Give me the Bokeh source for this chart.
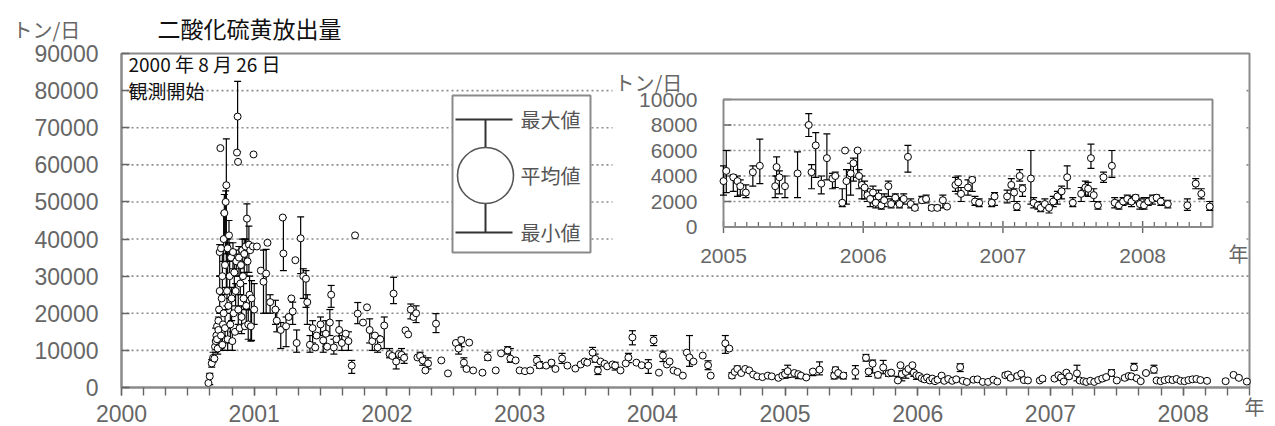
import numpy as np
from bokeh.plotting import figure
from bokeh.models import Range1d, SingleIntervalTicker, Label, ColumnDataSource, LinearAxis
from bokeh.embed import file_html
from bokeh.resources import INLINE
from bokeh.core.properties import value

# ---- observations: (decimal year, daily mean, daily min, daily max)  [t/day]
obs_2000 = [
    (2000.655, 1200, None, None), (2000.665, 3000, 800, 3800), (2000.68, 6500, 5500, 7500),
    (2000.69, 8000, 6800, 9500), (2000.70, 7800, None, None), (2000.705, 11000, None, None),
    (2000.71, 12500, 9500, 16000), (2000.715, 14000, None, None), (2000.72, 16500, None, None),
    (2000.72, 13000, None, None), (2000.725, 10500, 9000, 13500), (2000.73, 15500, 12000, 19000),
    (2000.73, 18000, None, None), (2000.735, 21000, None, None), (2000.74, 26000, 20000, 30000),
    (2000.74, 36500, 30000, 38500), (2000.745, 64500, None, None), (2000.75, 37500, None, None),
    (2000.75, 14000, 10500, 17500), (2000.755, 24000, None, None), (2000.76, 11500, 10000, 14000),
    (2000.76, 30000, 25000, 37000), (2000.765, 17000, None, None), (2000.77, 40000, 34000, 47000),
    (2000.77, 20000, None, None), (2000.775, 47000, 40000, 52000), (2000.78, 33000, None, None),
    (2000.78, 16000, 12000, 21000), (2000.785, 50000, 36000, 53000), (2000.79, 54500, 27000, 67000),
    (2000.795, 26000, 22000, 30000), (2000.80, 37500, 30000, 40000), (2000.80, 13000, 10000, 16000),
    (2000.805, 22000, None, None), (2000.81, 41000, 34000, 45000), (2000.815, 30000, 24000, 39000),
    (2000.82, 17000, 12000, 20000), (2000.825, 35000, None, None), (2000.83, 24000, 18000, 27000),
    (2000.835, 12500, 10000, 15000), (2000.84, 36500, 32000, 39000), (2000.845, 20000, None, None),
    (2000.85, 31000, 26000, 36000), (2000.855, 15000, None, None), (2000.86, 26000, 22000, 28000),
    (2000.865, 34000, 30000, 37000), (2000.87, 63300, None, None), (2000.875, 73000, 63500, 82500),
    (2000.878, 60800, None, None), (2000.88, 21000, 17000, 25000), (2000.885, 35000, 30000, 38000),
    (2000.89, 16000, None, None), (2000.895, 28000, 25000, 32000), (2000.90, 33000, None, None),
    (2000.905, 19000, 14500, 22000), (2000.91, 37000, 33000, 40000), (2000.915, 30000, None, None),
    (2000.92, 24000, 21000, 28000), (2000.925, 36000, 31000, 40000), (2000.93, 16500, None, None),
    (2000.935, 38000, 34000, 40000), (2000.94, 22000, 17000, 24000), (2000.945, 45500, 30000, 49500),
    (2000.95, 34000, None, None), (2000.955, 17000, 13000, 21000), (2000.96, 38500, 31000, 43500),
    (2000.965, 25000, 21000, 30000), (2000.97, 37000, None, None), (2000.975, 16500, 12500, 21000),
    (2000.98, 24000, 12700, 28800), (2000.99, 38000, None, None), (2000.995, 62800, None, None),
]
obs_2001 = [
    (2001.00, 21000, 17000, 28000), (2001.02, 38000, None, None), (2001.05, 31500, None, None),
    (2001.07, 28500, 20000, 37000), (2001.09, 30700, 20000, 37200), (2001.10, 39000, None, None),
    (2001.12, 23000, 20000, 25000), (2001.16, 21000, 17000, 23500), (2001.17, 18000, 15000, 21000),
    (2001.20, 15500, 10500, 17500), (2001.215, 45800, None, None), (2001.22, 36100, 31500, 45800),
    (2001.24, 16500, 11000, 19000), (2001.26, 19000, None, None), (2001.28, 24000, None, None),
    (2001.29, 20500, 17000, 23000), (2001.31, 34300, None, None), (2001.32, 12000, 9500, 15500),
    (2001.35, 40200, 30700, 46000), (2001.37, 30000, 24000, 32000), (2001.39, 29300, 21600, 31500),
    (2001.40, 23000, 17000, 25000), (2001.42, 11500, 9500, 14000), (2001.44, 16000, 12000, 18000),
    (2001.46, 10800, None, None), (2001.47, 14000, None, None), (2001.50, 17000, 14000, 19000),
    (2001.52, 12700, 9500, 15000), (2001.54, 14500, 11000, 18000), (2001.55, 11000, None, None),
    (2001.57, 17500, 14000, 21000), (2001.58, 25000, 21600, 27500), (2001.60, 10800, 9000, 13000),
    (2001.62, 13000, None, None), (2001.64, 15500, 13000, 18000), (2001.66, 12000, 10000, 14000),
    (2001.69, 14500, None, None), (2001.71, 12500, 10000, 15000), (2001.735, 5900, 3800, 7300),
    (2001.76, 41000, None, None), (2001.78, 19900, 17200, 22900), (2001.82, 17500, None, None),
    (2001.85, 21600, None, None), (2001.87, 15500, 12000, 18500), (2001.89, 12500, 10000, 14500),
    (2001.91, 14000, None, None), (2001.93, 10800, 9500, 14000), (2001.95, 13000, None, None),
    (2001.98, 16700, 10500, 19000),
]
obs_2002 = [
    (2002.02, 9000, 8000, 10500), (2002.04, 8500, None, None), (2002.05, 25300, 22600, 29700),
    (2002.07, 7000, 5000, 8500), (2002.09, 9000, None, None), (2002.11, 8800, 7500, 10500),
    (2002.13, 8000, 6500, 9000), (2002.14, 15400, None, None), (2002.16, 14300, None, None),
    (2002.18, 21000, 18500, 22500), (2002.20, 19000, None, None), (2002.22, 20000, 17500, 22000),
    (2002.23, 8100, None, None), (2002.25, 8500, 7500, 9500), (2002.27, 7300, 6000, 8500),
    (2002.29, 4600, None, None), (2002.31, 6500, 5000, 8000), (2002.37, 17200, 14800, 19900),
    (2002.41, 7300, None, None), (2002.46, 3800, None, None), (2002.52, 12000, None, None),
    (2002.54, 10500, 9000, 11500), (2002.56, 12800, 11000, 13500), (2002.58, 6700, 5500, 8000),
    (2002.60, 5000, None, None), (2002.62, 12100, None, None), (2002.65, 4600, None, None),
    (2002.72, 4000, None, None), (2002.76, 8100, 7300, 9500), (2002.82, 4600, None, None),
    (2002.86, 9200, None, None), (2002.91, 10000, 9000, 11000), (2002.93, 7800, 6800, 10500),
    (2002.97, 7300, None, None),
]
obs_2003 = [
    (2003.00, 4600, None, None), (2003.04, 4400, None, None), (2003.08, 4600, None, None),
    (2003.13, 7300, 6000, 8600), (2003.15, 6000, 5200, 7000), (2003.20, 5900, None, None),
    (2003.24, 6700, 5500, 7300), (2003.27, 5000, None, None), (2003.32, 7800, 6500, 9200),
    (2003.36, 5900, None, None), (2003.42, 5100, None, None), (2003.46, 6200, None, None),
    (2003.49, 7000, None, None), (2003.51, 6700, None, None), (2003.55, 9400, 7800, 10800),
    (2003.57, 7700, 6800, 9000), (2003.59, 4600, 3500, 5600), (2003.61, 7000, None, None),
    (2003.64, 6400, None, None), (2003.66, 5700, None, None), (2003.70, 6200, None, None),
    (2003.72, 5900, 4700, 6800), (2003.76, 4600, None, None), (2003.80, 6500, None, None),
    (2003.82, 8100, 6700, 9200), (2003.85, 13500, 11500, 15300), (2003.88, 6700, None, None),
    (2003.92, 6000, None, None), (2003.97, 5900, 3800, 7500),
]
obs_2004 = [
    (2004.01, 12700, 11300, 14000), (2004.05, 4000, None, None), (2004.08, 8600, 7000, 9800),
    (2004.11, 6200, None, None), (2004.13, 7000, None, None), (2004.16, 4600, None, None),
    (2004.19, 4200, None, None), (2004.23, 3200, None, None), (2004.26, 9400, None, None),
    (2004.28, 8100, 5700, 14000), (2004.31, 7000, None, None), (2004.38, 8600, None, None),
    (2004.42, 6000, 4800, 7200), (2004.44, 3200, None, None), (2004.55, 11900, 9200, 14000),
    (2004.58, 10500, None, None), (2004.60, 3200, 2500, 4000), (2004.62, 4200, None, None),
    (2004.64, 5000, 4000, 5800), (2004.67, 3900, None, None), (2004.70, 5000, None, None),
    (2004.73, 4600, None, None), (2004.76, 3500, None, None), (2004.79, 3000, None, None),
    (2004.83, 2800, None, None), (2004.87, 3200, None, None), (2004.90, 3000, None, None),
    (2004.95, 2600, None, None), (2004.98, 3200, None, None),
]
obs_2005 = [
    (2005.00, 3600, 2500, 4800), (2005.02, 4400, 2700, 6000), (2005.07, 3900, 2800, 4100),
    (2005.10, 3600, 2400, 4000), (2005.12, 3200, 2500, 3700), (2005.16, 2700, 2300, 3300),
    (2005.21, 4300, 3200, 4800), (2005.26, 4800, 3400, 6900), (2005.37, 3200, 2300, 4000),
    (2005.38, 4700, 4000, 5500), (2005.40, 3900, 2600, 4400), (2005.44, 3200, 2300, 4000),
    (2005.53, 4200, 2300, 5900), (2005.61, 8000, 7100, 8900), (2005.63, 4300, 3000, 4900),
    (2005.66, 6400, 3900, 7400), (2005.70, 3400, 2600, 4000), (2005.74, 5400, 3700, 7300),
    (2005.78, 3800, 3000, 4200), (2005.80, 4000, 3100, 4300), (2005.85, 1900, 1600, 3000),
    (2005.87, 6000, None, None), (2005.88, 3600, 1800, 4500), (2005.91, 4200, 2500, 5000),
    (2005.93, 5000, 3600, 5400), (2005.96, 6000, 3900, 6100), (2005.97, 4000, 3000, 4500),
    (2005.99, 3300, 2200, 4000),
]
obs_2006 = [
    (2006.01, 3100, 2200, 3600), (2006.03, 2500, 2000, 3000), (2006.05, 2200, 1600, 2700),
    (2006.07, 2700, 1900, 3200), (2006.09, 1900, 1500, 2400), (2006.11, 2400, 1700, 2900),
    (2006.13, 1700, 1400, 2000), (2006.15, 2100, 1600, 2600), (2006.18, 3200, 2400, 3600),
    (2006.20, 1800, 1500, 2200), (2006.23, 2300, 1800, 2600), (2006.26, 1800, 1500, 2300),
    (2006.29, 2200, 1800, 2600), (2006.32, 5500, 4300, 6400), (2006.34, 1800, 1500, 2200),
    (2006.37, 1500, 1300, 1800), (2006.42, 2100, 1900, 2400), (2006.45, 2200, 1900, 2500),
    (2006.49, 1500, 1300, 1700), (2006.53, 1500, 1300, 1700), (2006.57, 2100, 1500, 2500),
    (2006.60, 1600, None, None), (2006.66, 3300, 2800, 3900), (2006.68, 3500, 2600, 4000),
    (2006.70, 2600, 2000, 3100), (2006.75, 3100, 2500, 3700), (2006.78, 3700, 2800, 3900),
    (2006.80, 2000, 1700, 2400), (2006.83, 1900, 1600, 2200), (2006.92, 1900, 1600, 2200),
    (2006.94, 2400, 1700, 2700),
]
obs_2007 = [
    (2007.03, 2400, 1900, 2900), (2007.06, 3300, 2600, 3800), (2007.08, 2700, 2000, 3000),
    (2007.10, 1600, 1300, 2000), (2007.12, 4000, 3600, 4500), (2007.14, 3000, 2400, 3300),
    (2007.20, 3800, 1800, 6000), (2007.22, 1900, 1500, 2300), (2007.25, 1700, 1400, 2000),
    (2007.27, 1500, 1200, 1800), (2007.30, 1800, 1500, 2200), (2007.33, 1500, 1100, 1700),
    (2007.36, 2000, 1600, 2400), (2007.39, 2400, 1800, 2800), (2007.42, 2800, 2200, 3200),
    (2007.46, 3900, 3000, 4800), (2007.50, 1900, 1600, 2300), (2007.56, 2600, 2000, 3100),
    (2007.59, 3100, 2500, 3600), (2007.61, 3000, 2400, 3500), (2007.63, 5400, 4600, 6500),
    (2007.65, 2500, 2000, 3000), (2007.68, 1700, 1400, 2000), (2007.72, 3900, 3500, 4300),
    (2007.78, 4800, 3900, 6000), (2007.80, 1900, 1500, 2300), (2007.83, 1700, 1400, 2100),
    (2007.86, 2000, 1700, 2300), (2007.89, 2200, 1800, 2500), (2007.92, 2000, 1600, 2400),
    (2007.95, 2300, 1900, 2500), (2007.98, 1800, 1400, 2200),
]
obs_2008 = [
    (2008.01, 1700, 1400, 2300), (2008.04, 2000, 1700, 2300), (2008.07, 2200, 1800, 2500),
    (2008.10, 2300, 2000, 2500), (2008.13, 2000, 1700, 2300), (2008.18, 1800, 1500, 2100),
    (2008.32, 1700, 1300, 2200), (2008.38, 3400, 3000, 3800), (2008.42, 2600, 2200, 3000),
    (2008.48, 1600, 1300, 2000),
]

main_grid = [10000, 20000, 30000, 40000, 50000, 60000, 70000, 80000]
inset_x_ticks = [2005, 2006, 2007, 2008]
inset_y_ticks = [0, 2000, 4000, 6000, 8000, 10000]
inset_grid = [2000, 4000, 6000, 8000]
title_text = "二酸化硫黄放出量"
unit_text = "トン/日"
year_unit = "年"
start_note = ["2000 年 8 月 26 日", "観測開始"]
legend_labels = ["最大値", "平均値", "最小値"]

# ---- build columns
rows = obs_2000 + obs_2001 + obs_2002 + obs_2003 + obs_2004 + obs_2005 + obs_2006 + obs_2007 + obs_2008
date = np.array([r[0] for r in rows], dtype=float)
mean = np.array([r[1] for r in rows], dtype=float)
lo = np.array([np.nan if r[2] is None else r[2] for r in rows], dtype=float)
hi = np.array([np.nan if r[3] is None else r[3] for r in rows], dtype=float)

src_all = ColumnDataSource(dict(x=date, m=mean, lo=lo, hi=hi))
sel = date >= 2005
src_ins = ColumnDataSource(dict(x=date[sel], m=mean[sel], lo=lo[sel], hi=hi[sel]))

GRAY = "#666666"
FRAME = "#8a8a8a"
GRID = "#8c8c8c"
NUM_FONT = "Liberation Sans"
JP_FONT = "Noto Sans CJK JP"

# ---- page layout (pixels) of the main chart box inside the canvas
W, H = 1275, 426
BOX_L, BOX_R, BOX_T, BOX_B = 121, 1249, 53, 387
XLO, XHI, YLO, YHI = 2000, 2008.5, 0, 90000
kx = (XHI - XLO) / (BOX_R - BOX_L)
ky = (YHI - YLO) / (BOX_B - BOX_T)


def X(px):
    return XLO + (px - BOX_L) * kx


def Y(py):
    return YLO + (BOX_B - py) * ky


def draw_series(g, src, cap):
    g.segment(x0="x", y0="lo", x1="x", y1="hi", source=src, line_color="black", line_width=1.2)
    g.scatter(x="x", y="lo", source=src, marker="dash", size=cap, line_color="black", line_width=1.2)
    g.scatter(x="x", y="hi", source=src, marker="dash", size=cap, line_color="black", line_width=1.2)
    g.scatter(x="x", y="m", source=src, marker="circle", size=7, fill_color="white",
              line_color="black", line_width=1)


def label(fig, px, py, text, size, color, align="left"):
    fig.add_layout(Label(x=X(px), y=Y(py), text=text, text_font=JP_FONT, text_font_size=f"{size}px",
                         text_color=color, text_baseline="middle", text_align=align))


p = figure(width=W, height=H, x_range=Range1d(X(0), X(W)), y_range=Range1d(Y(H), Y(0)),
           x_axis_type=None, y_axis_type=None, output_backend="svg", toolbar_location=None,
           title=None, min_border=0, min_border_left=0, min_border_right=0, min_border_top=0,
           min_border_bottom=0, outline_line_color=None)
p.background_fill_color = "white"
p.border_fill_color = "white"

# axes fixed at the box edges
yax = LinearAxis(fixed_location=XLO, bounds=(YLO, YHI),
                 ticker=SingleIntervalTicker(interval=10000, num_minor_ticks=0))
xax = LinearAxis(fixed_location=YLO, bounds=(XLO, XHI),
                 ticker=SingleIntervalTicker(interval=1, num_minor_ticks=6))
for ax in (xax, yax):
    ax.axis_line_color = FRAME
    ax.axis_line_width = 2
    ax.major_tick_line_color = GRAY
    ax.minor_tick_line_color = GRAY
    ax.major_tick_line_width = 1.4
    ax.minor_tick_line_width = 1.4
    ax.major_label_text_font = NUM_FONT
    ax.major_label_text_color = GRAY
    ax.major_label_text_font_size = "23px"
yax.major_tick_in = 8
yax.major_tick_out = 0
yax.major_label_standoff = 23
xax.major_tick_in = 0
xax.major_tick_out = 8
xax.minor_tick_in = 0
xax.minor_tick_out = 8
xax.major_label_standoff = 9
p.add_layout(yax, "left")
p.add_layout(xax, "below")

# grid + box
n = len(main_grid)
p.segment(x0=[XLO] * n, x1=[XHI] * n, y0=main_grid, y1=main_grid,
          line_color=GRID, line_dash="2 3", line_width=1.6)
p.quad(left=[XLO], right=[XHI], bottom=[YLO], top=[YHI], fill_color=None,
       line_color=FRAME, line_width=2)

draw_series(p, src_all, 7)

# legend key (drawn box)
p.quad(left=[X(452)], right=[X(590)], top=[Y(95)], bottom=[Y(252)],
       fill_color="white", line_color=FRAME, line_width=2)
p.segment(x0=[X(455), X(455), X(485), X(485)], x1=[X(512), X(512), X(485), X(485)],
          y0=[Y(119), Y(232), Y(119), Y(203)], y1=[Y(119), Y(232), Y(147), Y(232)],
          line_color="#333333", line_width=2)
p.scatter(x=[X(485)], y=[Y(175)], marker="circle", size=56, fill_color="white",
          line_color="#555555", line_width=1.6)
for txt, py in zip(legend_labels, [119, 175, 232]):
    label(p, 520, py, txt, 20, "#555555")

label(p, 157, 27, title_text, 23, "#111111")
label(p, 12, 29, unit_text, 20, GRAY)
label(p, 128, 63, start_note[0], 19, "#111111")
label(p, 128, 90, start_note[1], 19, "#111111")
label(p, 1254, 406, year_unit, 20, GRAY, align="center")

# ---- inset (2005 onward, enlarged scale), drawn as a sub-plot of the canvas
IN_L, IN_R, IN_T, IN_B = 723, 1212, 99, 226.5
s = p.subplot(x_source=Range1d(2005, 2008.5), y_source=Range1d(0, 10000),
              x_target=Range1d(X(IN_L), X(IN_R)), y_target=Range1d(Y(IN_B), Y(IN_T)))
ikx = 3.5 / (IN_R - IN_L)
iky = 10000 / (IN_B - IN_T)


def IX(px):
    return 2005 + (px - IN_L) * ikx


def IY(py):
    return (IN_B - py) * iky


s.quad(left=[IX(612)], right=[IX(1244)], top=[IY(62)], bottom=[IY(268)],
       fill_color="white", line_color=None)
m = len(inset_grid)
s.segment(x0=[2005] * m, x1=[2008.5] * m, y0=inset_grid, y1=inset_grid,
          line_color=GRID, line_dash="2 3", line_width=1.6)
k = len(inset_y_ticks)
s.segment(x0=[2005] * k, x1=[2005 + 8 * ikx] * k, y0=inset_y_ticks, y1=inset_y_ticks,
          line_color=GRAY, line_width=1.4)
j = len(inset_x_ticks)
s.segment(x0=inset_x_ticks, x1=inset_x_ticks, y0=[-6 * iky] * j, y1=[6 * iky] * j,
          line_color=GRAY, line_width=1.4)
months = [2005 + i / 12 for i in range(1, 42) if i % 12]
s.segment(x0=months, x1=months, y0=[0] * len(months), y1=[5 * iky] * len(months),
          line_color=GRAY, line_width=1.2)
s.quad(left=[2005], right=[2008.5], top=[10000], bottom=[0],
       fill_color=None, line_color=FRAME, line_width=2)

draw_series(s, src_ins, 7)

s.text(x=[2005] * k, y=inset_y_ticks, text=[str(v) for v in inset_y_ticks],
       x_offset=-26, text_align="right", text_baseline="middle", text_font=value(NUM_FONT),
       text_font_size="21px", text_color=GRAY)
s.text(x=inset_x_ticks, y=[0] * j, text=[str(v) for v in inset_x_ticks], y_offset=29,
       text_align="center", text_baseline="middle", text_font=value(NUM_FONT),
       text_font_size="21px", text_color=GRAY)
s.text(x=[IX(614)], y=[IY(82)], text=[unit_text], text_align="left", text_baseline="middle",
       text_font=value(JP_FONT), text_font_size="20px", text_color=GRAY)
s.text(x=[IX(1238)], y=[IY(253)], text=[year_unit], text_align="center", text_baseline="middle",
       text_font=value(JP_FONT), text_font_size="20px", text_color=GRAY)

open("out.html", "w").write(file_html(p, INLINE))
